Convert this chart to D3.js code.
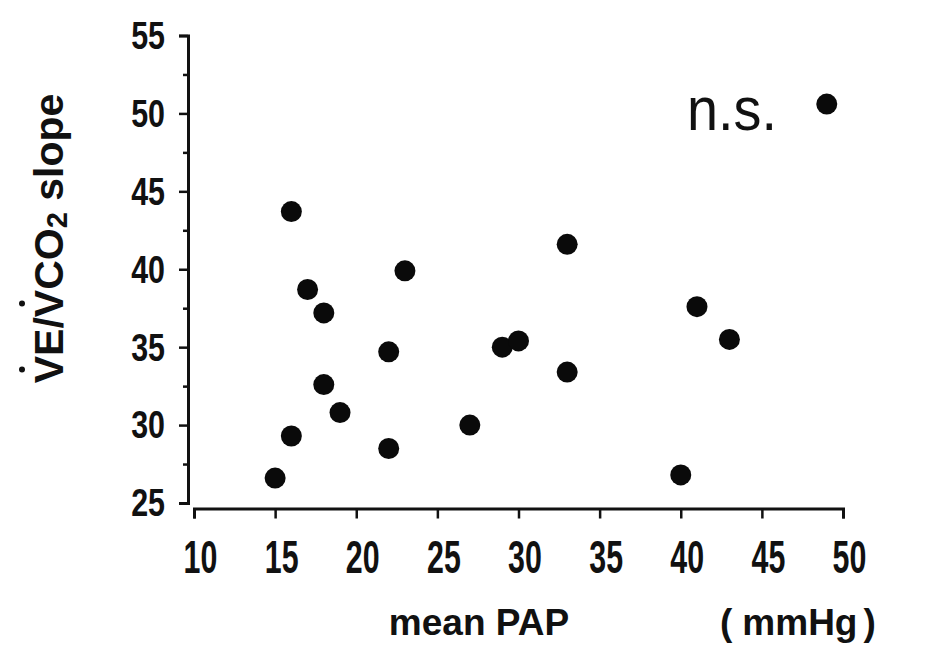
<!DOCTYPE html>
<html lang="en">
  <head>
    <meta charset="UTF-8" />
    <title>VE/VCO2 slope vs mean PAP</title>
    <script src="https://cdn.jsdelivr.net/npm/d3@7"></script>
    <style>
      body { margin: 0; background: #fff; }
      svg { display: block; }
      .tick text { font-family: "Liberation Sans", Arial, sans-serif; font-weight: bold; fill: #111; }
      .lbl { font-family: "Liberation Sans", Arial, sans-serif; font-weight: bold; fill: #111; }
    </style>
  </head>
  <body>
    <svg width="929" height="651"></svg>
    <script>
      // mean PAP (mmHg) and VE/VCO2 slope, one entry per patient
      const pap   = [15, 16, 16, 17, 18, 18, 19, 22, 22, 23, 27, 29, 30, 33, 33, 40, 41, 43, 49];
      const slope = [26.6, 29.3, 43.7, 38.7, 37.2, 32.6, 30.8, 34.7, 28.5, 39.9, 30.0, 35.0, 35.4, 41.6, 33.4, 26.8, 37.6, 35.5, 50.6];
      const xTicks = [10, 15, 20, 25, 30, 35, 40, 45, 50];
      const yTicks = [25, 30, 35, 40, 45, 50, 55];
      const yMinor = [27.5, 32.5, 37.5, 42.5, 47.5, 52.5];

      const svg = d3.select("svg");
      const x = d3.scaleLinear().domain([10, 50]).range([194, 843]);
      const y = d3.scaleLinear().domain([25, 55]).range([503, 35.5]);
      const xAxisY = 508.5;
      const yAxisX = 188;
      // the original labels use a condensed face, squeeze horizontally
      const ySqueeze = 0.78, xSqueeze = 0.66;

      // minor ticks on y axis
      svg.append("g")
        .attr("transform", `translate(${yAxisX},0)`)
        .call(d3.axisLeft(y).tickValues(yMinor).tickSize(5).tickFormat(""))
        .call(g => g.select(".domain").remove())
        .selectAll("line").attr("stroke", "#111").attr("stroke-width", 2.5);

      const yAxis = svg.append("g")
        .attr("transform", `translate(${yAxisX},0)`)
        .call(d3.axisLeft(y).tickValues(yTicks).tickSize(9).tickSizeOuter(9).tickPadding(14));
      yAxis.select(".domain").attr("stroke", "#111").attr("stroke-width", 3);
      yAxis.selectAll(".tick line").attr("stroke", "#111").attr("stroke-width", 2.5);
      yAxis.selectAll(".tick text")
        .attr("font-size", 39)
        .attr("dy", "0.33em")
        .attr("x", -23 / ySqueeze)
        .attr("transform", `scale(${ySqueeze},1)`);

      const xAxis = svg.append("g")
        .attr("transform", `translate(0,${xAxisY})`)
        .call(d3.axisBottom(x).tickValues(xTicks).tickSize(10).tickSizeOuter(10));
      xAxis.select(".domain").attr("stroke", "#111").attr("stroke-width", 3);
      xAxis.selectAll(".tick line").attr("stroke", "#111").attr("stroke-width", 2.5);
      xAxis.selectAll(".tick text")
        .attr("font-size", 46)
        .attr("y", 64.5)
        .attr("dy", 0)
        .attr("dx", 6 / xSqueeze)
        .attr("transform", `scale(${xSqueeze},1)`);

      // points
      svg.append("g")
        .selectAll("circle")
        .data(pap.map((p, i) => ({ p, s: slope[i] })))
        .join("circle")
        .attr("cx", d => x(d.p))
        .attr("cy", d => y(d.s))
        .attr("r", 10.5)
        .attr("fill", "#0a0a0a");

      // x axis titles
      svg.append("text").attr("class", "lbl")
        .attr("x", 479).attr("y", 635)
        .attr("text-anchor", "middle")
        .attr("font-size", 37)
        .text("mean PAP");

      const unit = svg.append("text").attr("class", "lbl")
        .attr("x", 720).attr("y", 635)
        .attr("font-size", 37);
      unit.append("tspan").text("(");
      unit.append("tspan").attr("dx", 10).text("mmHg");
      unit.append("tspan").attr("dx", 6).text(")");

      // y axis title, rotated
      const yt = svg.append("g").attr("transform", "translate(63,238.5) rotate(-90)");
      const ytText = yt.append("text").attr("class", "lbl")
        .attr("text-anchor", "middle")
        .attr("font-size", 41);
      ytText.append("tspan").text("VE/VCO");
      ytText.append("tspan").attr("font-size", 29).attr("dy", 4).text("2");
      ytText.append("tspan").attr("dy", -4).text(" slope");
      // dots over the two V's
      const node = ytText.node();
      [0, 3].forEach(i => {
        const e = node.getExtentOfChar(i);
        yt.append("circle")
          .attr("cx", e.x + e.width / 2)
          .attr("cy", -41)
          .attr("r", 3)
          .attr("fill", "#111");
      });

      // annotation
      svg.append("text")
        .attr("transform", "translate(687,130) scale(0.9,1)")
        .attr("font-family", "Liberation Sans, Arial, sans-serif")
        .attr("font-size", 62)
        .attr("fill", "#111")
        .text("n.s.");
    </script>
  </body>
</html>
